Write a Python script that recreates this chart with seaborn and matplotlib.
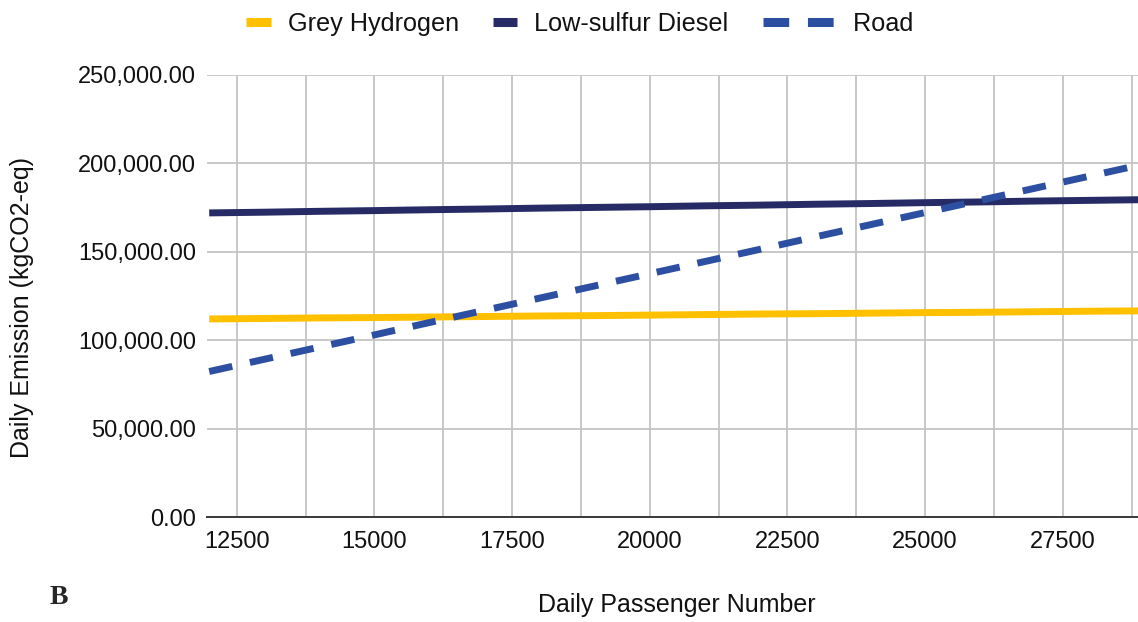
import matplotlib
matplotlib.use("Agg")
import matplotlib.pyplot as plt
import seaborn as sns
import pandas as pd
from matplotlib.lines import Line2D
from matplotlib.legend_handler import HandlerLine2D
from matplotlib.ticker import MultipleLocator, FuncFormatter

# ---- data ----
passengers = [12000, 13000, 14000, 15000, 16000, 17000, 18000, 19000, 20000,
              21000, 22000, 23000, 24000, 25000, 26000, 27000, 28000, 29000]
grey_hydrogen = [112000, 112300, 112600, 112800, 113100, 113400, 113700, 113900, 114200,
                 114500, 114800, 115000, 115300, 115600, 115800, 116100, 116400, 116600]
low_sulfur_diesel = [172000, 172400, 172900, 173300, 173800, 174200, 174700, 175100, 175500,
                     176000, 176400, 176900, 177300, 177800, 178200, 178700, 179100, 179500]
road = [82300, 89200, 96100, 103000, 110000, 116900, 123800, 130700, 137600,
        144500, 151400, 158400, 165300, 172200, 179100, 186000, 192900, 199800]
series_names = ["Grey Hydrogen", "Low-sulfur Diesel", "Road"]
colors = ["#FFC000", "#262B66", "#2D4FA1"]

df = pd.concat([
    pd.DataFrame({"x": passengers, "y": grey_hydrogen, "series": series_names[0]}),
    pd.DataFrame({"x": passengers, "y": low_sulfur_diesel, "series": series_names[1]}),
    pd.DataFrame({"x": passengers, "y": road, "series": series_names[2]}),
])

sns.set_style("white")
plt.rcParams["font.family"] = ["Liberation Sans", "DejaVu Sans"]
plt.rcParams["lines.scale_dashes"] = False

fig = plt.figure(figsize=(11.38, 6.22), dpi=100)
ax = fig.add_axes([207 / 1138, 105 / 622, 931 / 1138, 442 / 622])

lw = 5
sns.lineplot(data=df, x="x", y="y", hue="series", palette=colors,
             hue_order=series_names, ax=ax, legend=False, linewidth=lw)
ax.lines[2].set_dashes((17, 13))
for ln in ax.lines:
    ln.set_solid_capstyle("butt")
    ln.set_dash_capstyle("butt")

ax.set_xlim(11960, 28865)
ax.set_ylim(0, 250000)
ax.xaxis.set_major_locator(MultipleLocator(2500))
ax.xaxis.set_minor_locator(MultipleLocator(1250))
ax.yaxis.set_major_locator(MultipleLocator(50000))
ax.yaxis.set_major_formatter(FuncFormatter(lambda v, p: f"{v:,.2f}"))

ax.grid(True, which="both", axis="x", color="#C4C4C4", linewidth=1.3)
ax.grid(True, which="major", axis="y", color="#C4C4C4", linewidth=1.3)
ax.set_axisbelow(True)
for s in ["top", "right", "left"]:
    ax.spines[s].set_visible(False)
ax.spines["bottom"].set_color("#3A3A3A")
ax.spines["bottom"].set_linewidth(1.4)
ax.spines["bottom"].set_zorder(3)

ax.tick_params(axis="both", which="both", length=0, labelsize=17, colors="#111111")
ax.tick_params(axis="y", pad=8)
ax.tick_params(axis="x", pad=10)

ax.set_xlabel("Daily Passenger Number", fontsize=18, color="#111111")
ax.xaxis.set_label_coords(0.505, -0.199)
ax.xaxis.label.set_verticalalignment("center")
ax.set_ylabel("Daily Emission (kgCO2-eq)", fontsize=18, color="#111111")
ax.yaxis.set_label_coords(-0.1987, 0.473)
ax.yaxis.label.set_verticalalignment("center")


class LongHandler(HandlerLine2D):
    def __init__(self, factor=1.0, **kw):
        super().__init__(**kw)
        self.factor = factor

    def create_artists(self, legend, orig_handle, xdescent, ydescent, width,
                       height, fontsize, trans):
        y = height / 2 - ydescent
        line = Line2D([-xdescent, -xdescent + width * self.factor], [y, y])
        self.update_prop(line, orig_handle, legend)
        line.set_transform(trans)
        return [line]


h1 = Line2D([], [], color=colors[0], linewidth=6.5, solid_capstyle="butt")
h2 = Line2D([], [], color=colors[1], linewidth=6.5, solid_capstyle="butt")
h3 = Line2D([], [], color=colors[2], linewidth=6.5, dash_capstyle="butt",
            dashes=(18.5, 13.5))
leg = fig.legend([h1, h2, h3],
                 [series_names[0], series_names[1], "       " + series_names[2]],
                 handler_map={h3: LongHandler(factor=2.92)},
                 loc="center", bbox_to_anchor=(580 / 1138, 1 - 24 / 622),
                 ncol=3, frameon=False, fontsize=18.2, handlelength=0.96,
                 handletextpad=0.67, columnspacing=1.36, borderaxespad=0)
for t in leg.get_texts():
    t.set_color("#111111")

fig.text(50 / 1138, 1 - 598 / 622, "B", fontsize=20, fontweight="bold",
         family=["Liberation Serif", "DejaVu Serif"], va="center", ha="left")

fig.savefig("out.png", dpi=100)
